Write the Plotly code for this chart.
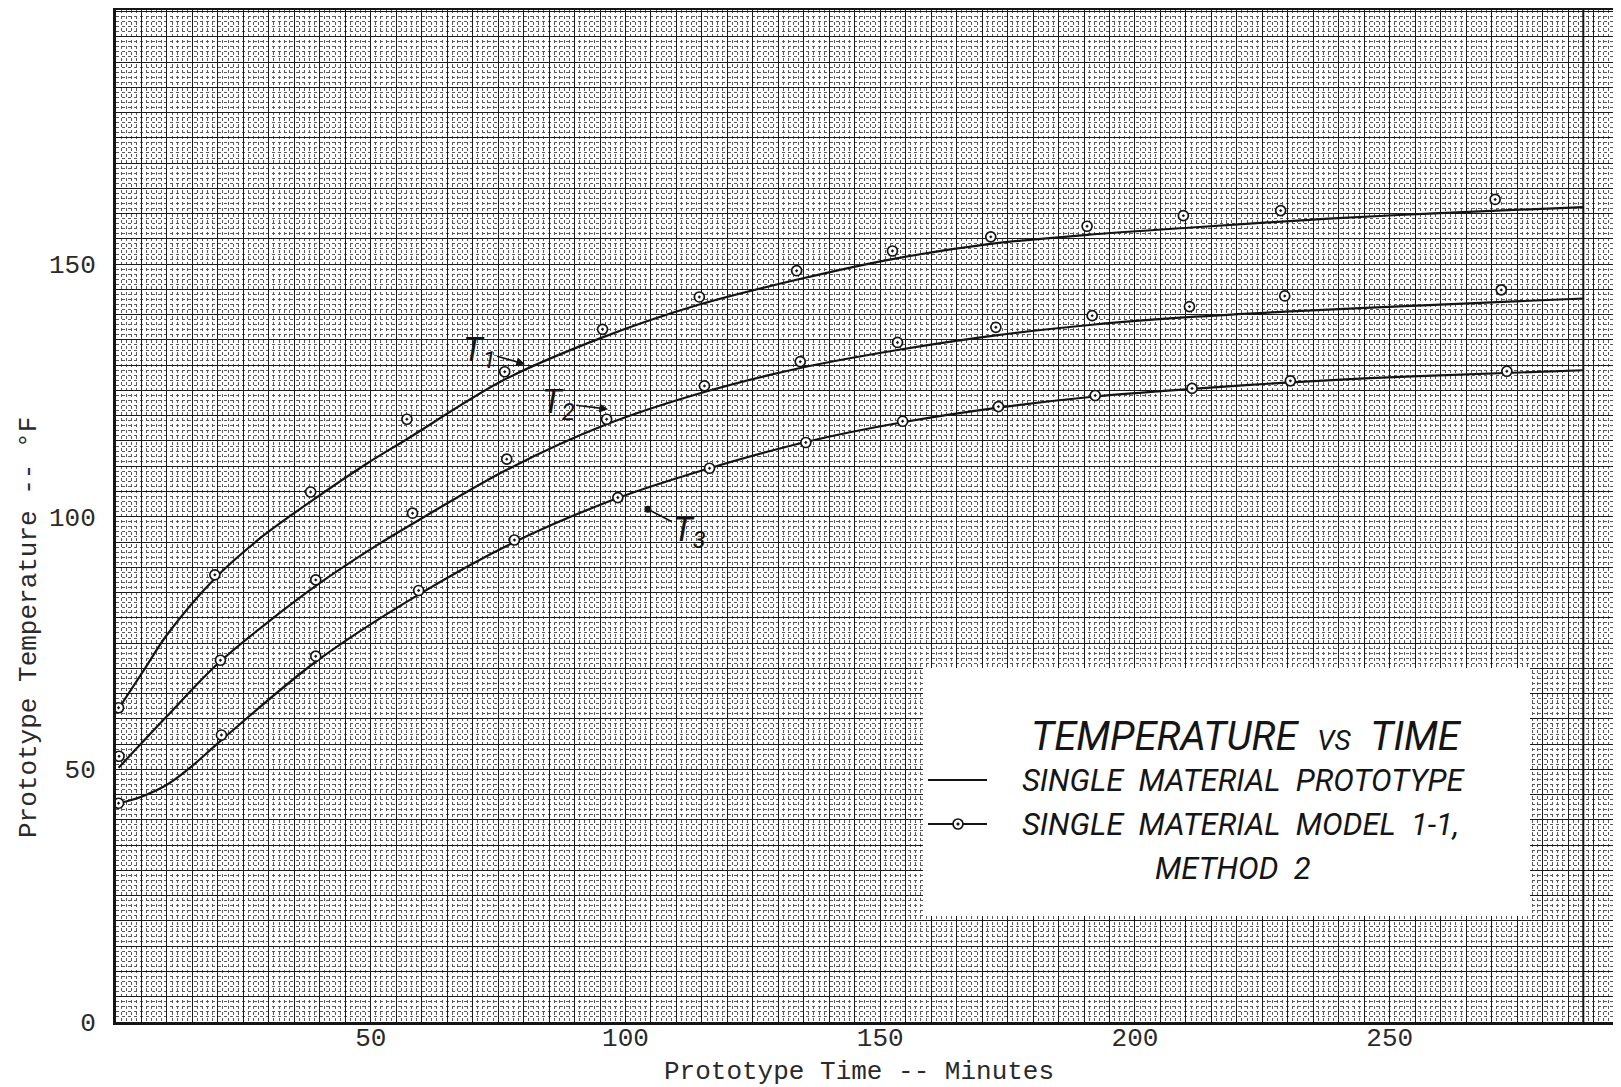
import plotly.graph_objects as go

# ---------------- data ----------------
# Prototype (solid curves)
proto_t1_x = [0.5, 5.7, 9.9, 19.4, 28.6, 38.2, 49.2, 57.0, 76.0, 95.5, 114.5, 134.0, 152.4, 171.7, 190.6, 211.9, 238.0, 257.6, 288.0]
proto_t1_y = [62.0, 70.0, 76.5, 87.8, 96.0, 103.0, 110.5, 115.3, 127.0, 135.5, 142.0, 147.0, 151.0, 154.0, 155.8, 157.3, 159.0, 160.0, 161.3]

proto_t2_x = [0.5, 9.9, 20.5, 39.2, 51.1, 60.2, 76.7, 96.3, 115.5, 134.1, 153.4, 172.7, 191.6, 211.9, 229.5, 257.6, 288.0]
proto_t2_y = [50.3, 60.4, 71.4, 86.3, 94.3, 99.8, 109.3, 118.3, 124.7, 129.4, 133.0, 135.9, 138.0, 139.6, 140.6, 141.9, 143.2]

proto_t3_x = [0.5, 5.0, 9.9, 14.5, 20.7, 39.2, 59.4, 78.2, 98.5, 116.5, 135.4, 154.4, 173.2, 192.2, 211.2, 230.5, 254.4, 288.0]
proto_t3_y = [43.3, 44.6, 46.9, 50.3, 55.8, 71.3, 84.6, 95.0, 103.7, 109.6, 114.8, 118.7, 121.6, 123.8, 125.3, 126.6, 127.8, 129.0]

# Model 1-1, method 2 (circled points)
model_t1_x = [0.5, 19.4, 38.2, 57.1, 76.3, 95.5, 114.5, 133.6, 152.4, 171.7, 190.6, 209.5, 228.6, 270.7]
model_t1_y = [62.2, 88.5, 104.9, 119.3, 128.7, 137.1, 143.5, 148.7, 152.6, 155.4, 157.5, 159.6, 160.6, 162.8]

model_t2_x = [0.6, 20.5, 39.2, 58.2, 76.7, 96.3, 115.5, 134.3, 153.4, 172.7, 191.6, 210.7, 229.4, 271.9]
model_t2_y = [52.6, 71.6, 87.5, 100.7, 111.4, 119.3, 125.9, 130.7, 134.5, 137.5, 139.8, 141.6, 143.7, 144.9]

model_t3_x = [0.5, 20.7, 39.2, 59.4, 78.2, 98.5, 116.5, 135.4, 154.4, 173.2, 192.2, 211.2, 230.5, 273.0]
model_t3_y = [43.3, 56.8, 72.4, 85.4, 95.4, 103.8, 109.6, 114.7, 118.9, 121.8, 124.0, 125.4, 126.9, 128.8]

# tick labels
x_tick_labels = [50, 100, 150, 200, 250]
y_tick_labels = [0, 50, 100, 150]
grid_step = 5
x_max = 295.4
y_max = 200.3
frame_x = 288.0

# curve labels: (text, tip x, tip y, text offset px x, y, arrowhead)
curve_labels = [
    ("T<sub>1</sub>", 80.3, 130.2, -46, -13, 2),
    ("T<sub>2</sub>", 96.6, 121.3, -50, -6, 2),
    ("T<sub>3</sub>", 104.4, 101.5, 42, 22, 6),
]

# ---------------- figure ----------------
OFF = 8                      # page body margin of the written html
W, H = 1621 - OFF, 1087 - OFF
ML, MR, MT, MB = 116 - OFF, 0, 10 - OFF, 65
PW, PH = W - ML - MR, H - MT - MB


def px(xp):  # page pixel -> paper x
    return (xp - OFF - ML) / PW


def py(yp):  # page pixel -> paper y
    return (H - MB - (yp - OFF)) / PH


INK = "#151515"
fig = go.Figure()

for xs, ys in [(proto_t1_x, proto_t1_y), (proto_t2_x, proto_t2_y), (proto_t3_x, proto_t3_y)]:
    fig.add_trace(go.Scatter(x=xs, y=ys, mode="lines", line=dict(color=INK, width=2.2, shape="spline", smoothing=0.9),
                             showlegend=False, hoverinfo="skip"))

for xs, ys in [(model_t1_x, model_t1_y), (model_t2_x, model_t2_y), (model_t3_x, model_t3_y)]:
    fig.add_trace(go.Scatter(x=xs, y=ys, mode="markers",
                             marker=dict(symbol="circle-dot", size=10, color="white",
                                         line=dict(color=INK, width=1.7)),
                             showlegend=False))

x_grid = [v for v in range(0, int(x_max) + 1, grid_step)]
y_grid = [v for v in range(0, int(y_max) + 1, grid_step)]

tick_font = dict(family="Liberation Mono, Courier New, monospace", size=26, color="#2a2a2a")
minor_grid = dict(dtick=1, tick0=0, showgrid=True, gridcolor="#5a5a5a", gridwidth=1, griddash="dot")

fig.update_xaxes(range=[0, x_max], tickmode="array", tickvals=x_grid,
                 ticktext=[str(v) if v in x_tick_labels else "" for v in x_grid], tickangle=0,
                 showgrid=True, gridcolor="#1a1a1a", gridwidth=1.1, minor=minor_grid,
                 showline=True, linecolor=INK, linewidth=3, mirror=True,
                 ticks="", ticklen=0, tickfont=tick_font, ticklabelstandoff=-10, zeroline=False)
fig.update_yaxes(range=[0, y_max], tickmode="array", tickvals=y_grid,
                 ticktext=[str(v) if v in y_tick_labels else "" for v in y_grid], tickangle=0,
                 showgrid=True, gridcolor="#1a1a1a", gridwidth=1.1, minor=minor_grid,
                 showline=True, linecolor=INK, linewidth=3, mirror=False,
                 ticks="", ticklen=0, tickfont=tick_font, ticklabelstandoff=12, zeroline=False)

shapes = []
# right frame line of the plotted region
shapes.append(dict(type="line", xref="x", yref="paper", x0=frame_x, x1=frame_x, y0=0, y1=1,
                   line=dict(color=INK, width=2)))
# legend card
shapes.append(dict(type="rect", xref="paper", yref="paper", x0=px(923), x1=px(1530), y0=py(916), y1=py(668),
                   fillcolor="white", line=dict(width=0), layer="above"))
# legend samples
shapes.append(dict(type="line", xref="paper", yref="paper", x0=px(928), x1=px(987), y0=py(780), y1=py(780),
                   line=dict(color=INK, width=2), layer="above"))
shapes.append(dict(type="line", xref="paper", yref="paper", x0=px(928), x1=px(987), y0=py(824), y1=py(824),
                   line=dict(color=INK, width=2), layer="above"))
shapes.append(dict(type="circle", xref="paper", yref="paper", xsizemode="pixel", ysizemode="pixel",
                   xanchor=px(958), yanchor=py(824), x0=-5, x1=5, y0=-5, y1=5,
                   fillcolor="white", line=dict(color=INK, width=1.7), layer="above"))
shapes.append(dict(type="circle", xref="paper", yref="paper", xsizemode="pixel", ysizemode="pixel",
                   xanchor=px(958), yanchor=py(824), x0=-1.3, x1=1.3, y0=-1.3, y1=1.3,
                   fillcolor=INK, line=dict(color=INK, width=0.5), layer="above"))
fig.update_layout(shapes=shapes)

hand = dict(family="Roboto, Liberation Sans, sans-serif", color=INK, style="italic")
sp = "\u00a0"
annotations = [
    dict(text="Prototype Time -- Minutes", xref="paper", yref="paper", x=px(859), y=py(1072),
         showarrow=False, font=tick_font, xanchor="center", yanchor="middle"),
    dict(text="Prototype Temperature -- \u00b0F", xref="paper", yref="paper", x=px(29), y=py(628),
         showarrow=False, font=tick_font, textangle=-90, xanchor="center", yanchor="middle"),
    dict(text="TEMPERATURE" + sp * 2 + "<span style='font-size:28px'>VS</span>" + sp * 2 + "TIME",
         xref="paper", yref="paper", x=px(1246), y=py(736), showarrow=False,
         font=dict(size=40, **hand), xanchor="center", yanchor="middle"),
    dict(text="SINGLE" + sp + " MATERIAL" + sp + " PROTOTYPE", xref="paper", yref="paper", x=px(1020), y=py(780),
         showarrow=False, font=dict(size=31, **hand), xanchor="left", yanchor="middle"),
    dict(text="SINGLE" + sp + " MATERIAL" + sp + " MODEL" + sp + " 1-1,", xref="paper", yref="paper", x=px(1020), y=py(824),
         showarrow=False, font=dict(size=31, **hand), xanchor="left", yanchor="middle"),
    dict(text="METHOD" + sp + " 2", xref="paper", yref="paper", x=px(1233), y=py(868),
         showarrow=False, font=dict(size=31, **hand), xanchor="center", yanchor="middle"),
]
for txt, tx, ty, axp, ayp, head in curve_labels:
    annotations.append(dict(text=txt, x=tx, y=ty, xref="x", yref="y", ax=axp, ay=ayp,
                            showarrow=True, arrowhead=head, arrowsize=1.1, arrowwidth=1.6, arrowcolor=INK,
                            font=dict(size=34, **hand), standoff=0))
fig.update_layout(annotations=annotations)

fig.update_layout(width=W, height=H, margin=dict(l=ML, r=MR, t=MT, b=MB, pad=0),
                  paper_bgcolor="white", plot_bgcolor="white", showlegend=False)

fig.write_html("out.html")
